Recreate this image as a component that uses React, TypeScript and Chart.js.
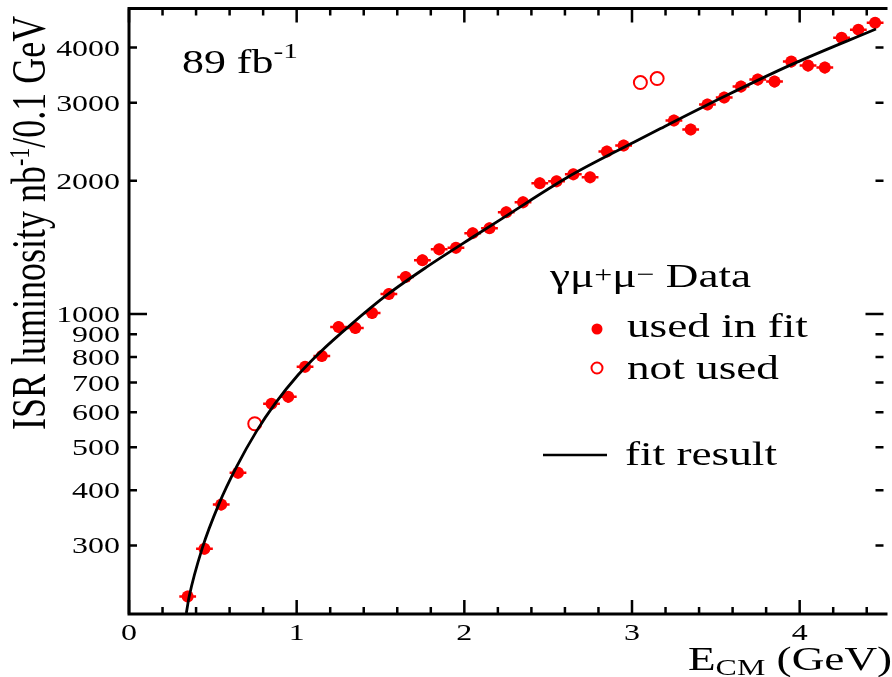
import React, { useEffect, useRef } from "react";
import { Chart, registerables } from "chart.js";

Chart.register(...registerables);

// ---- data ----
const E_USED = [
  0.35, 0.45, 0.55, 0.65, 0.85, 0.95, 1.05, 1.15, 1.25, 1.35, 1.45, 1.55, 1.65,
  1.75, 1.85, 1.95, 2.05, 2.15, 2.25, 2.35, 2.45, 2.55, 2.65, 2.75, 2.85, 2.95,
  3.25, 3.35, 3.45, 3.55, 3.65, 3.75, 3.85, 3.95, 4.05, 4.15, 4.25, 4.35, 4.45,
];
const L_USED = [
  230, 295, 371, 438, 627, 650, 760, 804, 935, 930, 1005, 1110, 1212,
  1323, 1400, 1412, 1523, 1563, 1698, 1788, 1974, 1994, 2068, 2036, 2330, 2404,
  2737, 2612, 2975, 3084, 3265, 3386, 3351, 3718, 3641, 3604, 4210, 4390, 4552,
];
const E_NOT_USED = [0.75, 3.05, 3.15];
const L_NOT_USED = [565, 3334, 3404];

const FIT_E = [
  0.342, 0.359, 0.436, 0.536, 0.642, 0.76, 0.872, 1.008, 1.143, 1.32, 1.538,
  1.774, 2.068, 2.227, 2.616, 3.011, 3.17, 3.559, 3.954, 4.455,
];
const FIT_L = [
  211, 230, 295, 372, 452, 543, 628, 728, 822, 944, 1104,
  1276, 1506, 1645, 2037, 2443, 2624, 3112, 3664, 4406,
];

const BIN_HALF_WIDTH = 0.05; // GeV (bins of 0.1 GeV)
const REL_ERR = 0.03;

const X_MIN = 0;
const X_MAX = 4.5;
const Y_MIN = 210;
const Y_MAX = 4900;

const X_MAJOR = [0, 1, 2, 3, 4];
const X_LABELS = ["0", "1", "2", "3", "4"];
const X_MINOR = [0.2, 0.4, 0.6, 0.8, 1.2, 1.4, 1.6, 1.8, 2.2, 2.4, 2.6, 2.8, 3.2, 3.4, 3.6, 3.8, 4.2, 4.4];
const Y_TICKS = [300, 400, 500, 600, 700, 800, 900, 1000, 2000, 3000, 4000];
const Y_LABELS = ["300", "400", "500", "600", "700", "800", "900", "1000", "2000", "3000", "4000"];
const Y_MAJOR = [1000];

const FONT = '"Liberation Serif", "Times New Roman", Times, serif';
const SX = 1.33; // horizontal stretch of the reference text
const RED = "#ff0000";

type Run = { text: string; size: number; dy?: number };

function drawRuns(ctx: CanvasRenderingContext2D, runs: Run[], x: number, y: number, rotate = false) {
  ctx.save();
  ctx.translate(x, y);
  ctx.scale(SX, 1);
  if (rotate) ctx.rotate(-Math.PI / 2);
  ctx.textAlign = "left";
  ctx.textBaseline = "alphabetic";
  ctx.fillStyle = "#000";
  let u = 0;
  for (const r of runs) {
    ctx.font = `${r.size}px ${FONT}`;
    ctx.fillText(r.text, u, r.dy || 0);
    u += ctx.measureText(r.text).width;
  }
  ctx.restore();
}

function drawText(ctx: CanvasRenderingContext2D, text: string, x: number, y: number, size: number, align: CanvasTextAlign) {
  ctx.save();
  ctx.translate(x, y);
  ctx.scale(SX, 1);
  ctx.font = `${size}px ${FONT}`;
  ctx.textAlign = align;
  ctx.textBaseline = "alphabetic";
  ctx.fillStyle = "#000";
  ctx.fillText(text, 0, 0);
  ctx.restore();
}

const errorBars = {
  id: "errorBars",
  beforeDatasetsDraw(chart: any) {
    const ctx = chart.ctx as CanvasRenderingContext2D;
    const xs = chart.scales.x;
    const ys = chart.scales.y;
    ctx.save();
    ctx.strokeStyle = RED;
    ctx.lineWidth = 2.5;
    E_USED.forEach((e, i) => {
      const l = L_USED[i];
      const px = xs.getPixelForValue(e);
      const py = ys.getPixelForValue(l);
      ctx.beginPath();
      ctx.moveTo(xs.getPixelForValue(e - BIN_HALF_WIDTH), py);
      ctx.lineTo(xs.getPixelForValue(e + BIN_HALF_WIDTH), py);
      ctx.moveTo(px, ys.getPixelForValue(l * (1 - REL_ERR)));
      ctx.lineTo(px, ys.getPixelForValue(l * (1 + REL_ERR)));
      ctx.stroke();
    });
    ctx.restore();
  },
};

const frame = {
  id: "frame",
  afterDraw(chart: any) {
    const ctx = chart.ctx as CanvasRenderingContext2D;
    const ca = chart.chartArea;
    const xs = chart.scales.x;
    const ys = chart.scales.y;
    ctx.save();
    ctx.strokeStyle = "#000";
    ctx.lineCap = "butt";
    // axis lines (left, bottom, top)
    ctx.lineWidth = 3;
    ctx.beginPath();
    ctx.moveTo(ca.right + 4, ca.top);
    ctx.lineTo(ca.left, ca.top);
    ctx.lineTo(ca.left, ca.bottom);
    ctx.lineTo(ca.right + 4, ca.bottom);
    ctx.stroke();

    // x ticks (inward, top and bottom)
    ctx.lineWidth = 2.5;
    ctx.beginPath();
    X_MAJOR.forEach((v) => {
      const p = xs.getPixelForValue(v);
      ctx.moveTo(p, ca.bottom);
      ctx.lineTo(p, ca.bottom - 14);
      ctx.moveTo(p, ca.top);
      ctx.lineTo(p, ca.top + 14);
    });
    X_MINOR.forEach((v) => {
      const p = xs.getPixelForValue(v);
      ctx.moveTo(p, ca.bottom);
      ctx.lineTo(p, ca.bottom - 7);
      ctx.moveTo(p, ca.top);
      ctx.lineTo(p, ca.top + 7);
    });
    // y ticks (inward, left and right)
    Y_TICKS.forEach((v) => {
      const p = ys.getPixelForValue(v);
      const len = Y_MAJOR.includes(v) ? 18 : 8;
      ctx.moveTo(ca.left, p);
      ctx.lineTo(ca.left + len, p);
      ctx.moveTo(ca.right, p);
      ctx.lineTo(ca.right - len, p);
    });
    ctx.stroke();

    // tick labels
    X_MAJOR.forEach((v, i) => {
      drawText(ctx, X_LABELS[i], xs.getPixelForValue(v), ca.bottom + 26, 24, "center");
    });
    Y_TICKS.forEach((v, i) => {
      drawText(ctx, Y_LABELS[i], ca.left - 9, ys.getPixelForValue(v) + 8, 24, "right");
    });

    // axis titles
    drawRuns(
      ctx,
      [
        { text: "ISR luminosity nb", size: 36 },
        { text: "-1", size: 22, dy: -12 },
        { text: "/0.1 GeV", size: 36 },
      ],
      45,
      430,
      true
    );
    drawRuns(
      ctx,
      [
        { text: "E", size: 34 },
        { text: "CM", size: 24, dy: 5 },
        { text: " (GeV)", size: 34 },
      ],
      688,
      670
    );

    // luminosity annotation
    drawRuns(
      ctx,
      [
        { text: "89 fb", size: 33 },
        { text: "-1", size: 22, dy: -15 },
      ],
      182,
      73
    );

    // legend
    drawRuns(
      ctx,
      [
        { text: "γμ", size: 34 },
        { text: "+", size: 24, dy: -5 },
        { text: "μ", size: 34 },
        { text: "−", size: 24, dy: -5 },
        { text: " Data", size: 34 },
      ],
      550,
      287
    );
    ctx.fillStyle = RED;
    ctx.beginPath();
    ctx.arc(597, 329, 5.5, 0, Math.PI * 2);
    ctx.fill();
    ctx.strokeStyle = RED;
    ctx.lineWidth = 2;
    ctx.beginPath();
    ctx.arc(597, 368, 5.5, 0, Math.PI * 2);
    ctx.stroke();
    drawText(ctx, "used in fit", 627, 337, 34, "left");
    drawText(ctx, "not used", 627, 379, 34, "left");
    ctx.strokeStyle = "#000";
    ctx.lineWidth = 2.5;
    ctx.beginPath();
    ctx.moveTo(543, 455);
    ctx.lineTo(607, 455);
    ctx.stroke();
    drawText(ctx, "fit result", 625, 465, 34, "left");
    ctx.restore();
  },
};

export default function App() {
  const canvasRef = useRef<HTMLCanvasElement | null>(null);

  useEffect(() => {
    document.body.style.margin = "0";
    const canvas = canvasRef.current;
    if (!canvas) return;
    const chart = new Chart(canvas, {
      type: "scatter",
      data: {
        datasets: [
          {
            label: "fit result",
            data: FIT_E.map((x, i) => ({ x, y: FIT_L[i] })),
            showLine: true,
            borderColor: "#000",
            borderWidth: 2.8,
            pointRadius: 0,
            cubicInterpolationMode: "monotone",
            order: 0,
          } as any,
          {
            label: "used in fit",
            data: E_USED.map((x, i) => ({ x, y: L_USED[i] })),
            backgroundColor: RED,
            borderColor: RED,
            pointRadius: 6,
            pointBorderWidth: 0,
            order: 1,
          },
          {
            label: "not used",
            data: E_NOT_USED.map((x, i) => ({ x, y: L_NOT_USED[i] })),
            backgroundColor: "rgba(255,255,255,0)",
            borderColor: RED,
            pointRadius: 6.5,
            pointBorderWidth: 2,
            order: 2,
          },
        ],
      },
      options: {
        responsive: false,
        animation: false,
        devicePixelRatio: 1,
        layout: { padding: { top: 8, right: 0, bottom: 0, left: 0 } },
        plugins: {
          legend: { display: false },
          tooltip: { enabled: false },
        },
        scales: {
          x: {
            type: "linear",
            min: X_MIN,
            max: X_MAX,
            ticks: { display: false },
            grid: { display: false, drawTicks: false },
            border: { display: false },
            afterFit: (s: any) => {
              s.height = 63;
            },
          },
          y: {
            type: "logarithmic",
            min: Y_MIN,
            max: Y_MAX,
            ticks: { display: false },
            grid: { display: false, drawTicks: false },
            border: { display: false },
            afterFit: (s: any) => {
              s.width = 129;
            },
          },
        },
      },
      plugins: [errorBars, frame],
    });
    return () => chart.destroy();
  }, []);

  return (
    <div style={{ width: 892, height: 677, position: "relative" }}>
      <canvas ref={canvasRef} width={892} height={677} style={{ display: "block" }} />
    </div>
  );
}
